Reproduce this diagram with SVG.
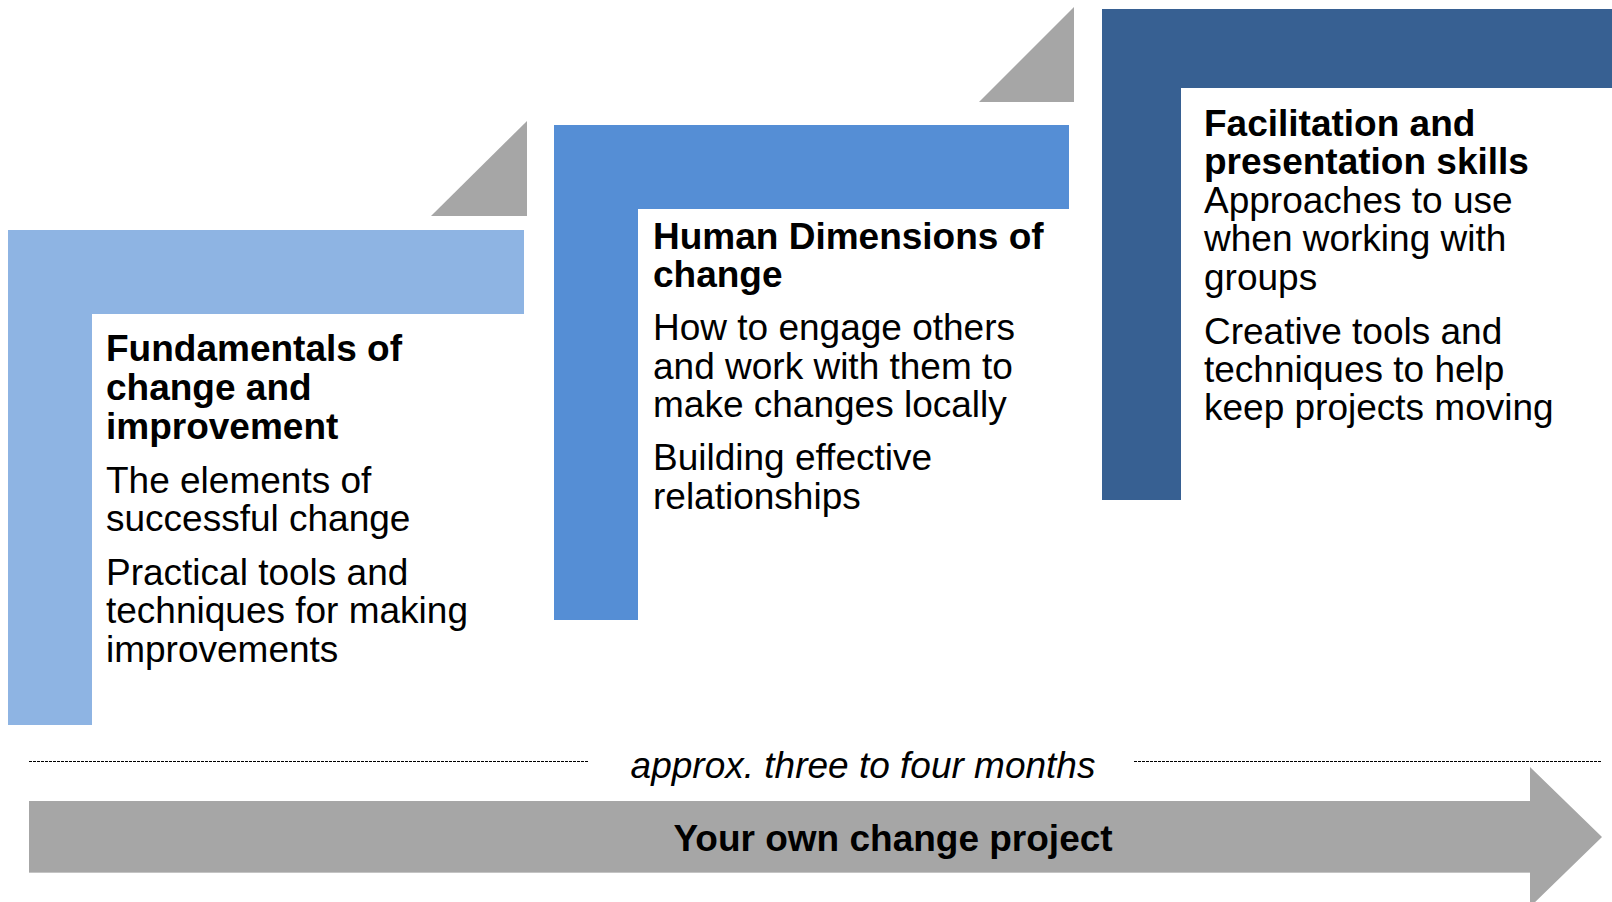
<svg xmlns="http://www.w3.org/2000/svg" width="1612" height="902" viewBox="0 0 1612 902">
  <style>
    text { font-family: "Liberation Sans", Arial, sans-serif; font-size: 37px; fill: #000; }
    .title { font-weight: bold; }
    .note { font-style: italic; }
    .step1 { fill: #8EB4E3; }
    .step2 { fill: #558ED5; }
    .step3 { fill: #376092; }
    .grey { fill: #A6A6A6; }
    .dash { stroke: #000; stroke-width: 1; stroke-dasharray: 3 1; fill: none; }
  </style>

  <rect width="1612" height="902" fill="#FFFFFF"/>

  <!-- step 1 -->
  <g id="fundamentals">
    <path class="step1" d="M8,230 H524 V314 H92 V725 H8 Z"/>
    <text x="106" y="360.5" class="title">Fundamentals of</text>
    <text x="106" y="399.5" class="title">change and</text>
    <text x="106" y="438.5" class="title">improvement</text>
    <text x="106" y="492.5">The elements of</text>
    <text x="106" y="530.5">successful change</text>
    <text x="106" y="584.5">Practical tools and</text>
    <text x="106" y="622.5">techniques for making</text>
    <text x="106" y="661.5">improvements</text>
  </g>

  <!-- step 2 -->
  <g id="human-dimensions">
    <path class="step2" d="M554,125 H1069 V209 H638 V620 H554 Z"/>
    <text x="653" y="249" class="title">Human Dimensions of</text>
    <text x="653" y="287" class="title">change</text>
    <text x="653" y="340">How to engage others</text>
    <text x="653" y="379">and work with them to</text>
    <text x="653" y="417">make changes locally</text>
    <text x="653" y="470">Building effective</text>
    <text x="653" y="509">relationships</text>
  </g>

  <!-- step 3 -->
  <g id="facilitation">
    <path class="step3" d="M1102,9 H1612 V88 H1181 V500 H1102 Z"/>
    <text x="1204" y="135.5" class="title">Facilitation and</text>
    <text x="1204" y="173.5" class="title">presentation skills</text>
    <text x="1204" y="212.5">Approaches to use</text>
    <text x="1204" y="250.5">when working with</text>
    <text x="1204" y="289.5">groups</text>
    <text x="1204" y="343.5">Creative tools and</text>
    <text x="1204" y="381.5">techniques to help</text>
    <text x="1204" y="419.5">keep projects moving</text>
  </g>

  <!-- grey step-up wedges between the stages -->
  <g id="connectors">
    <polygon class="grey" points="431,216 527,121 527,216"/>
    <polygon class="grey" points="979,102 1074,7 1074,102"/>
  </g>

  <!-- duration bar and project arrow -->
  <g id="timeline">
    <line class="dash" x1="29" y1="761.5" x2="589" y2="761.5"/>
    <line class="dash" x1="1134" y1="761.5" x2="1602" y2="761.5"/>
    <text x="863" y="778" class="note" text-anchor="middle">approx. three to four months</text>
  </g>

  <g id="project">
    <path class="grey" d="M29,801 H1530 V767 L1602,837 L1530,907 V872 H29 Z"/>
    <line x1="29" y1="872.5" x2="1530" y2="872.5" stroke="#C4C4C4" stroke-width="1"/>
    <text x="893" y="851" class="title" text-anchor="middle">Your own change project</text>
  </g>
</svg>
